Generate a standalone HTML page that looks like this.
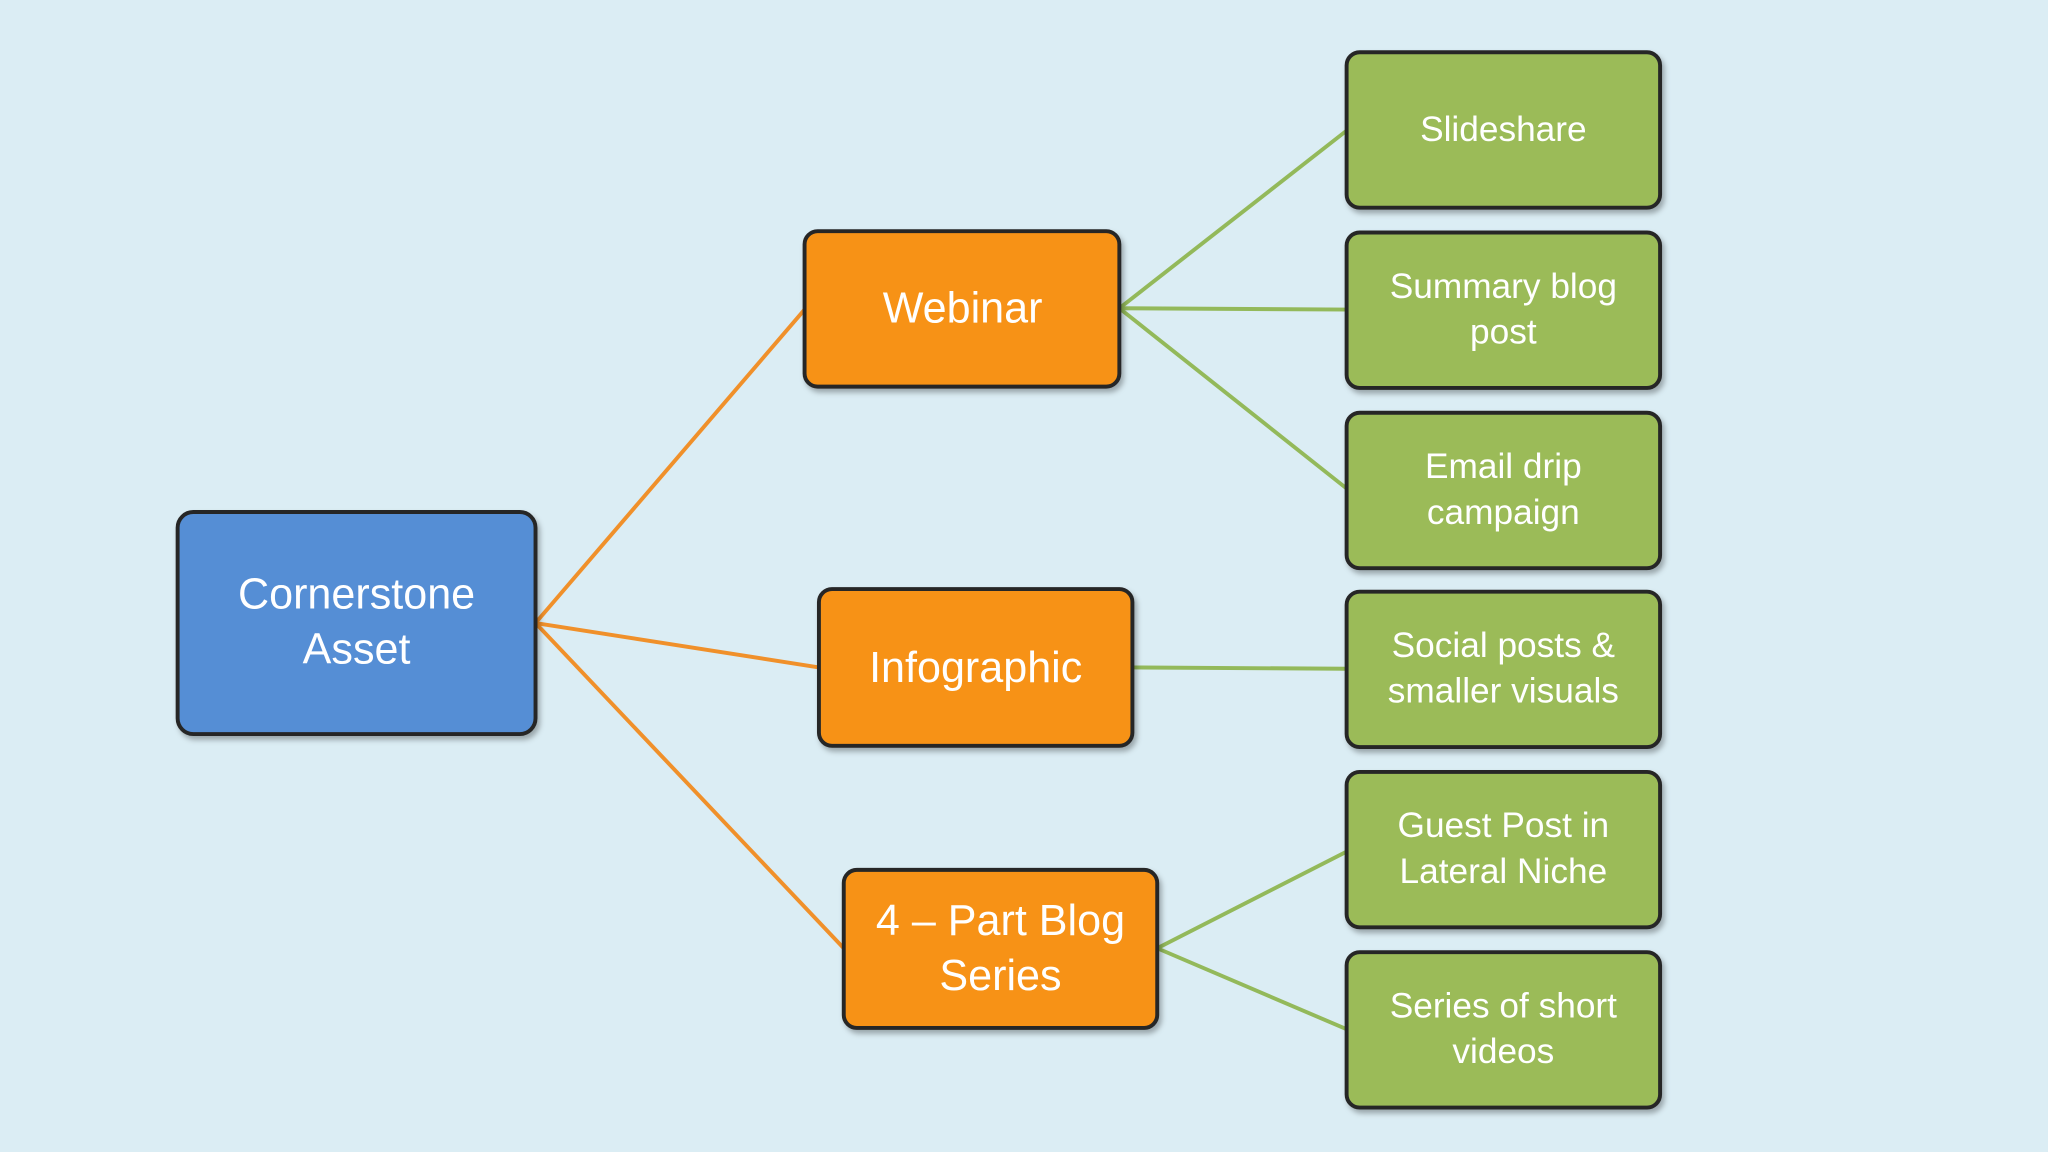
<!DOCTYPE html>
<html><head><meta charset="utf-8"><style>
html,body{margin:0;padding:0;background:#dbedf4;}
svg{display:block}
text{font-family:"Liberation Sans",sans-serif;fill:#fff;text-anchor:middle}
</style></head><body>
<svg width="2048" height="1152" viewBox="0 0 1568 882" xmlns="http://www.w3.org/2000/svg">
<defs><filter id="s" x="-10%" y="-10%" width="130%" height="130%"><feDropShadow dx="2" dy="3" stdDeviation="2" flood-color="#000" flood-opacity="0.3"/></filter></defs>
<rect width="1568" height="882" fill="#dbedf4"/>
<g stroke="#f0902a" stroke-width="3" fill="none">
<line x1="410" y1="477" x2="616" y2="237"/>
<line x1="410" y1="477" x2="627" y2="511"/>
<line x1="410" y1="477" x2="646" y2="726"/>
</g>
<g stroke="#93b95a" stroke-width="3" fill="none">
<line x1="857" y1="236" x2="1031" y2="100"/>
<line x1="857" y1="236" x2="1031" y2="237"/>
<line x1="857" y1="236" x2="1031" y2="374"/>
<line x1="867" y1="511" x2="1031" y2="512"/>
<line x1="886" y1="726" x2="1031" y2="652"/>
<line x1="886" y1="726" x2="1031" y2="788"/>
</g>
<g stroke="#262626" stroke-width="3" filter="url(#s)">
<rect x="136" y="392" width="274" height="170" rx="12" fill="#558ed5"/>
<rect x="616" y="177" width="241" height="119" rx="10" fill="#f79218"/>
<rect x="627" y="451" width="240" height="120" rx="10" fill="#f79218"/>
<rect x="646" y="666" width="240" height="121" rx="10" fill="#f79218"/>
<rect x="1031" y="40" width="240" height="119" rx="10" fill="#9bbb59"/>
<rect x="1031" y="178" width="240" height="119" rx="10" fill="#9bbb59"/>
<rect x="1031" y="316" width="240" height="119" rx="10" fill="#9bbb59"/>
<rect x="1031" y="453" width="240" height="119" rx="10" fill="#9bbb59"/>
<rect x="1031" y="591" width="240" height="119" rx="10" fill="#9bbb59"/>
<rect x="1031" y="729" width="240" height="119" rx="10" fill="#9bbb59"/>
</g>
<g font-size="33">
<text x="273" y="466">Cornerstone</text>
<text x="273" y="508">Asset</text>
<text x="737" y="247">Webinar</text>
<text x="747" y="522">Infographic</text>
<text x="766" y="716">4 – Part Blog</text>
<text x="766" y="758">Series</text>
</g>
<g font-size="27">
<text x="1151" y="108">Slideshare</text>
<text x="1151" y="228">Summary blog</text>
<text x="1151" y="263">post</text>
<text x="1151" y="366">Email drip</text>
<text x="1151" y="401">campaign</text>
<text x="1151" y="503">Social posts &amp;</text>
<text x="1151" y="538">smaller visuals</text>
<text x="1151" y="641">Guest Post in</text>
<text x="1151" y="676">Lateral Niche</text>
<text x="1151" y="779">Series of short</text>
<text x="1151" y="814">videos</text>
</g>
</svg>
</body></html>
